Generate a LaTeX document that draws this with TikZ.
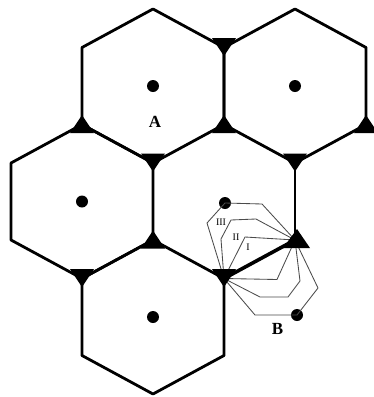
\documentclass[tikz,border=0pt]{standalone}
\usepackage{fontspec}
\setmainfont{Liberation Serif}
\definecolor{lanegray}{RGB}{75,75,75}
\usepackage{tikz}

\begin{document}
\begin{tikzpicture}[x=1pt, y=-1pt,
    cell/.style={line width=2.8pt, line join=round},
    lane/.style={lanegray, line width=0.85pt, line join=round},
    dot/.style={circle, fill, inner sep=0pt, minimum size=12pt},
    tag/.style={font=\fontsize{17}{17}\selectfont\bfseries},
    rn/.style={font=\fontsize{10}{10}\selectfont}]
        \useasboundingbox (0,0) rectangle (373,397);
        % cells
        \foreach \x/\y in {153/86, 295/86, 82/201.5, 153/317}
          \draw[cell] (\x,\y) ++(0,-77) -- ++(71,38.5) -- ++(0,77) -- ++(-71,38.5)
            -- ++(-71,-38.5) -- ++(0,-77) -- cycle;
        \draw[cell] (295,163) -- (295,240);
        \coordinate (V) at (224,278.5);
        \coordinate (T) at (295,240);
        \draw[line width=3.6pt] (V) -- (T);
        % centres
        \foreach \x/\y [count=\i] in {153/86, 295/86, 82/201.5, 153/317}
          \node[dot] (c\i) at (\x,\y) {};
        \node[dot] (D) at (225,203) {};
        \node[dot] (B) at (297,315) {};
        % routes above
        \draw[lane] (V) -- (245,237) -- (T);
        \draw[lane] (V) -- (221,239) -- (231,220) -- (256,219) -- (T);
        \draw[lane] (V) -- (207,223) -- (D.center) -- (262,204) -- (T);
        % routes below
        \draw[lane] (V) -- (277,279.5) -- (T);
        \draw[lane] (V) -- (260,297) -- (288,297) -- (300,281) -- (T);
        \draw[lane] (V) -- (255,315) -- (B.center) -- (318,288) -- (T);
        % junctions
        \foreach \x/\y in {224/47.5, 153/163, 295/163, 82/278.5, 224/278.5}
          \fill (\x,\y) ++(-12,-9.5) -- ++(24,0) -- ++(-12,18) -- cycle;
        \foreach \x/\y in {82/124.5, 224/124.5, 366/124.5, 153/240}
          \fill (\x,\y) ++(-12,8.5) -- ++(24,0) -- ++(-12,-18) -- cycle;
        \fill (283,248) -- (310,248) -- (297,229) -- cycle;
        \node[tag] (lA) at (155,122) {A};
        \node[tag] (lB) at (277.5,329) {B};
        \node[rn] (r3) at (221,222) {III};
        \node[rn] (r2) at (236,237) {II};
        \node[rn] (r1) at (248,247) {I};
      \end{tikzpicture}
\end{document}
